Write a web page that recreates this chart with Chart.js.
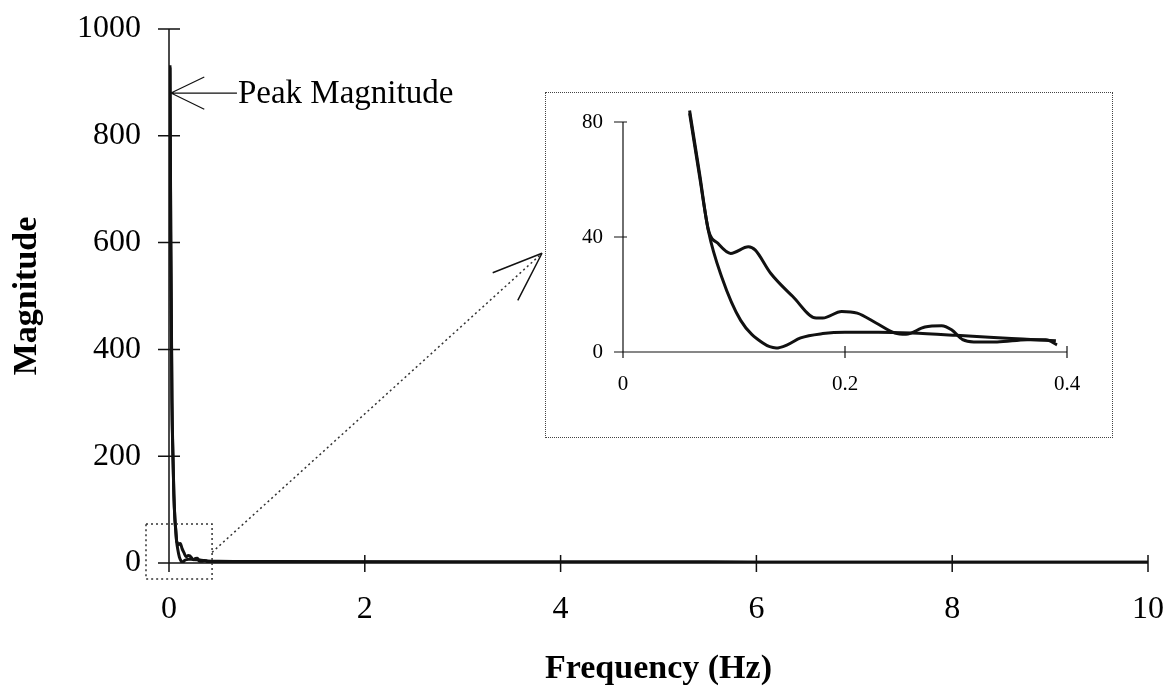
<!DOCTYPE html>
<html>
<head>
<meta charset="utf-8">
<script src="https://cdn.jsdelivr.net/npm/chart.js@4"></script>
<style>
  html, body { margin: 0; padding: 0; background: #fff; }
  #wrap { position: relative; width: 1170px; height: 695px; }
  #main { position: absolute; left: 0; top: 0; }
  #inset { position: absolute; left: 546px; top: 93px; width: 566px; height: 344px; outline: 1px dotted #444; background: #fff; }
  #zoom { display: block; }
</style>
</head>
<body>
<div id="wrap">
  <canvas id="main" width="1170" height="695"></canvas>
  <div id="inset"><canvas id="zoom" width="566" height="344"></canvas></div>
</div>
<script>
// frequency (Hz) / magnitude
const freqA = [0.01, 0.018, 0.03, 0.04, 0.05, 0.06, 0.069, 0.077, 0.089, 0.106, 0.126, 0.138, 0.148, 0.16, 0.18, 0.2, 0.23, 0.26, 0.3, 0.33, 0.36, 0.39, 0.5, 1, 2, 3, 4, 5, 6, 7, 8, 9, 10];
const magA = [928, 600, 300, 200, 125, 83, 61, 42, 26, 11, 3.1, 1.4, 2.5, 4.9, 6.4, 6.9, 6.9, 6.6, 5.8, 5.1, 4.5, 3.9, 3.2, 2.6, 2.2, 2, 1.8, 1.7, 1.6, 1.5, 1.4, 1.3, 1.2];

const freqB = [0.01, 0.018, 0.03, 0.04, 0.05, 0.06, 0.069, 0.077, 0.0855, 0.097, 0.113, 0.119, 0.133, 0.153, 0.174, 0.18, 0.197, 0.211, 0.228, 0.245, 0.255, 0.272, 0.287, 0.296, 0.306, 0.316, 0.337, 0.364, 0.381, 0.391, 0.5, 1, 2, 3, 4, 5, 6, 7, 8, 9, 10];
const magB = [932, 620, 310, 205, 128, 84, 62, 42.4, 37.8, 34.3, 36.6, 35.5, 27.4, 19.3, 11.8, 11.8, 14.1, 13.5, 10.1, 6.6, 6.2, 8.7, 9.1, 7.7, 4.3, 3.5, 3.5, 4.3, 4.3, 2.5, 2.6, 2.3, 2.0, 1.9, 1.8, 1.7, 1.6, 1.5, 1.4, 1.3, 1.2];

const peakLabel = "Peak Magnitude";
const peakAt = [0.02, 880];            // where the arrow points (Hz, magnitude)
const zoomBox = [-0.235, 0.44, -30, 73]; // region shown in the inset
const zoomRange = [0.06, 0.392];

const serif = "'Liberation Serif', 'Times New Roman', serif";

function toPoints(xs, ys, lo, hi) {
    const pts = [];
    xs.forEach((f, i) => {
        if (lo === undefined || (f >= lo && f <= hi)) pts.push({ x: f, y: ys[i] });
    });
    return pts;
}

// fixed axis size, and no extra label padding pushed into the layout
function fitTo(size) {
    return (s) => {
        if (s.isHorizontal()) s.height = size; else s.width = size;
        s.paddingTop = s.paddingBottom = s.paddingLeft = s.paddingRight = 0;
    };
}

// axis lines with ticks crossing them
const crossAxes = {
    id: "crossAxes",
    beforeDatasetsDraw(chart, args, opts) {
        const { ctx } = chart;
        const x = chart.scales.x, y = chart.scales.y;
        const x0 = x.getPixelForValue(x.min), x1 = x.getPixelForValue(x.max);
        const y0 = y.getPixelForValue(y.min), y1 = y.getPixelForValue(y.max);
        ctx.save();
        ctx.strokeStyle = "#111";
        ctx.lineWidth = opts.width;
        ctx.beginPath();
        ctx.moveTo(x0, y0); ctx.lineTo(x1, y0);
        ctx.moveTo(x0, y0); ctx.lineTo(x0, y1);
        x.ticks.forEach((t) => {
            const p = x.getPixelForValue(t.value);
            ctx.moveTo(p, y0 - opts.xUp); ctx.lineTo(p, y0 + opts.xDown);
        });
        y.ticks.forEach((t) => {
            const p = y.getPixelForValue(t.value);
            ctx.moveTo(x0 - opts.yLeft, p); ctx.lineTo(x0 + opts.yRight, p);
        });
        ctx.stroke();
        ctx.restore();
    },
};

function openHead(ctx, tx, ty, ang, len, spread) {
    ctx.moveTo(tx, ty);
    ctx.lineTo(tx + len * Math.cos(ang + spread), ty + len * Math.sin(ang + spread));
    ctx.moveTo(tx, ty);
    ctx.lineTo(tx + len * Math.cos(ang - spread), ty + len * Math.sin(ang - spread));
}

// peak label, zoom box and the dotted arrow to the inset
const mainNotes = {
    id: "mainNotes",
    afterDraw(chart) {
        const { ctx } = chart;
        const x = chart.scales.x, y = chart.scales.y;
        ctx.save();

        const tx = x.getPixelForValue(peakAt[0]), ty = y.getPixelForValue(peakAt[1]);
        ctx.strokeStyle = "#111";
        ctx.lineWidth = 1.2;
        ctx.beginPath();
        ctx.moveTo(tx, ty); ctx.lineTo(tx + 66, ty);
        openHead(ctx, tx, ty, 0, 37, 0.45);
        ctx.stroke();
        ctx.fillStyle = "#000";
        ctx.font = "33px " + serif;
        ctx.textBaseline = "middle";
        ctx.fillText(peakLabel, tx + 67, ty + 1);

        const bx0 = x.getPixelForValue(zoomBox[0]), bx1 = x.getPixelForValue(zoomBox[1]);
        const by0 = y.getPixelForValue(zoomBox[3]), by1 = y.getPixelForValue(zoomBox[2]);
        ctx.strokeStyle = "#333";
        ctx.lineWidth = 1.5;
        ctx.setLineDash([2, 3]);
        ctx.strokeRect(bx0, by0, bx1 - bx0, by1 - by0);

        const inset = document.getElementById("inset");
        const sx = bx1, sy = y.getPixelForValue(20);
        const ex = inset.offsetLeft - 4, ey = y.getPixelForValue(580);
        ctx.beginPath();
        ctx.moveTo(sx, sy); ctx.lineTo(ex, ey);
        ctx.stroke();
        ctx.setLineDash([]);
        ctx.strokeStyle = "#111";
        ctx.lineWidth = 1.5;
        ctx.beginPath();
        openHead(ctx, ex, ey, Math.atan2(sy - ey, sx - ex), 53, 0.36);
        ctx.stroke();
        ctx.restore();
    },
};

const lineStyle = {
    borderColor: "#111",
    borderWidth: 3,
    pointRadius: 0,
    fill: false,
    cubicInterpolationMode: "monotone",
};

const plain = (v) => String(v);

new Chart(document.getElementById("main"), {
    type: "line",
    data: {
        datasets: [
            { ...lineStyle, data: toPoints(freqA, magA) },
            { ...lineStyle, data: toPoints(freqB, magB) },
        ],
    },
    options: {
        responsive: false,
        animation: false,
        events: [],
        layout: { padding: { top: 29, right: 22, left: 0, bottom: 0 } },
        plugins: {
            legend: { display: false },
            tooltip: { enabled: false },
            crossAxes: { width: 1.5, xUp: 8, xDown: 9, yLeft: 11, yRight: 11 },
        },
        scales: {
            x: {
                type: "linear",
                min: 0,
                max: 10,
                afterFit: fitTo(132),
                grid: { display: false, drawTicks: false },
                border: { display: false },
                ticks: { stepSize: 2, autoSkip: false, maxRotation: 0, padding: 27, color: "#000", font: { family: serif, size: 32 }, callback: plain },
                title: {
                    display: true,
                    text: "Frequency (Hz)",
                    color: "#000",
                    font: { family: serif, size: 34, weight: "bold" },
                    padding: { top: 0, bottom: 5 },
                },
            },
            y: {
                min: 0,
                max: 1000,
                afterFit: fitTo(169),
                grid: { display: false, drawTicks: false },
                border: { display: false },
                ticks: { stepSize: 200, autoSkip: false, padding: 28, color: "#000", font: { family: serif, size: 32 }, callback: plain },
                title: {
                    display: true,
                    text: "Magnitude",
                    color: "#000",
                    font: { family: serif, size: 34, weight: "bold" },
                    padding: { top: 7, bottom: 0 },
                },
            },
        },
    },
    plugins: [crossAxes, mainNotes],
});

// inset: zoom of 0 - 0.4 Hz
new Chart(document.getElementById("zoom"), {
    type: "line",
    data: {
        datasets: [
            { ...lineStyle, clip: false, data: toPoints(freqA, magA, zoomRange[0], zoomRange[1]) },
            { ...lineStyle, clip: false, data: toPoints(freqB, magB, zoomRange[0], zoomRange[1]) },
        ],
    },
    options: {
        responsive: false,
        animation: false,
        events: [],
        layout: { padding: { top: 29, right: 45, left: 0, bottom: 0 } },
        plugins: {
            legend: { display: false },
            tooltip: { enabled: false },
            crossAxes: { width: 1.2, xUp: 6, xDown: 6, yLeft: 9, yRight: 4 },
        },
        scales: {
            x: {
                type: "linear",
                min: 0,
                max: 0.4,
                afterFit: fitTo(85),
                grid: { display: false, drawTicks: false },
                border: { display: false },
                ticks: { stepSize: 0.2, autoSkip: false, maxRotation: 0, padding: 20, color: "#000", font: { family: serif, size: 21 }, callback: plain },
            },
            y: {
                min: 0,
                max: 80,
                afterFit: fitTo(77),
                grid: { display: false, drawTicks: false },
                border: { display: false },
                ticks: { stepSize: 40, autoSkip: false, padding: 20, color: "#000", font: { family: serif, size: 21 }, callback: plain },
            },
        },
    },
    plugins: [crossAxes],
});
</script>
</body>
</html>
